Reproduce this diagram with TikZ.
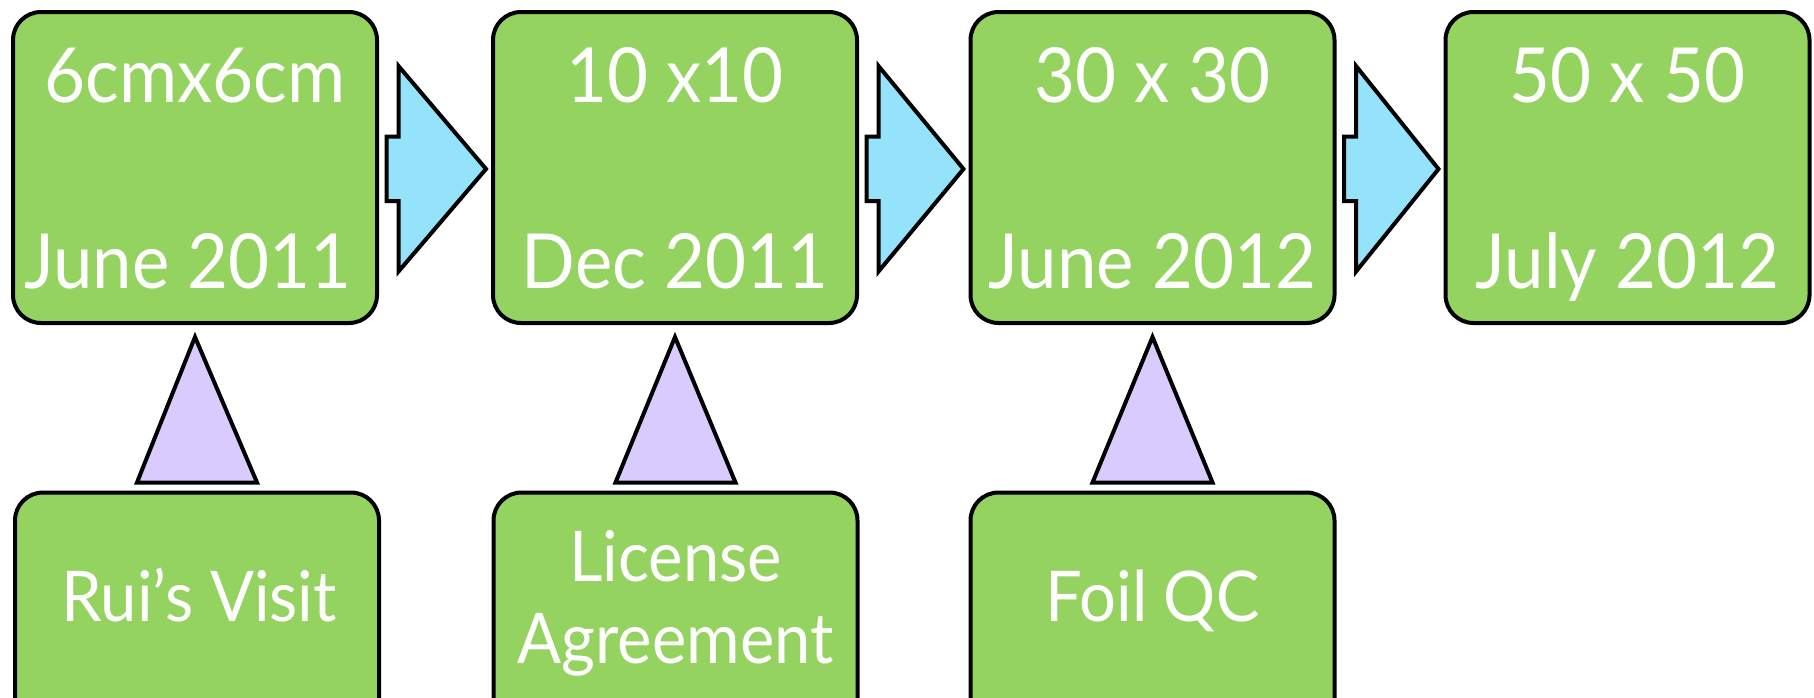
\documentclass[tikz,border=0pt]{standalone}
\usepackage{fontspec}
\setmainfont{Lato}[FakeStretch=0.93]
\usetikzlibrary{calc}
\definecolor{boxgreen}{RGB}{148,211,95}
\definecolor{arrowblue}{RGB}{148,227,251}
\definecolor{trilav}{RGB}{217,203,254}
\tikzset{
  stagebox/.style={draw=black, line width=4pt, fill=boxgreen, rounded corners=28pt,
    minimum width=364pt, minimum height=311pt, inner sep=0pt, outer sep=0pt},
  bigtext/.style={text=white, anchor=base, inner sep=0pt, font=\fontsize{76}{80}\selectfont},
  smalltext/.style={text=white, anchor=base, inner sep=0pt, font=\fontsize{70}{74}\selectfont},
  blockarrow/.style={draw=black, line width=4pt, fill=arrowblue, line join=miter},
  trianglemark/.style={draw=black, line width=4pt, fill=trilav, line join=miter}
}
\begin{document}
\begin{tikzpicture}[x=1pt, y=-1pt]
\useasboundingbox (0,0) rectangle (1814,697);
% top row
\node[stagebox] (b1) at (195,167.5) {};
\node[stagebox] (b2) at (675,167.5) {};
\node[stagebox] (b3) at (1152.5,167.5) {};
\node[stagebox] (b4) at (1627.5,167.5) {};
% bottom row
\node[stagebox] (r1) at (197,648) {};
\node[stagebox] (r2) at (675.5,648) {};
\node[stagebox] (r3) at (1152.5,648) {};
% texts top row
\node[bigtext] (t1a) at (195,102) {6cmx6cm};
\node[bigtext] (t1b) at (188,288) {June 2011};
\node[bigtext] (t2a) at (675,102) {10 x10};
\node[bigtext] (t2b) at (675,288) {Dec 2011};
\node[bigtext] (t3a) at (1152.5,102) {30 x 30};
\node[bigtext] (t3b) at (1152.5,288) {June 2012};
\node[bigtext] (t4a) at (1627.5,102) {50 x 50};
\node[bigtext] (t4b) at (1627.5,288) {July 2012};
% texts bottom row
\node[smalltext] (u1) at (199,621) {Rui’s Visit};
\node[smalltext] (u2a) at (675.5,581) {License};
\node[smalltext] (u2b) at (675.5,663) {Agreement};
\node[smalltext] (u3) at (1152.5,621) {Foil QC};
% block arrows between stages
\foreach \a/\b in {b1/b2, b2/b3, b3/b4}{
  \draw[blockarrow] ($(\a.east)+(9.5,-31)$) -- ++(12,0) -- ++(0,-70.5)
     -- ($(\b.west)+(-7,1.5)$) -- ($(\a.east)+(21.5,104)$) -- ++(0,-70.5) -- ++(-12,0) -- cycle;
}
% triangles from events to stages
\foreach \r/\s in {r1/b1, r2/b2, r3/b3}{
  \draw[trianglemark] ($(\r.north)+(-60,-10)$) -- ($(\s.south)+(0,14)$) -- ($(\r.north)+(60,-10)$) -- cycle;
}
\end{tikzpicture}
\end{document}
